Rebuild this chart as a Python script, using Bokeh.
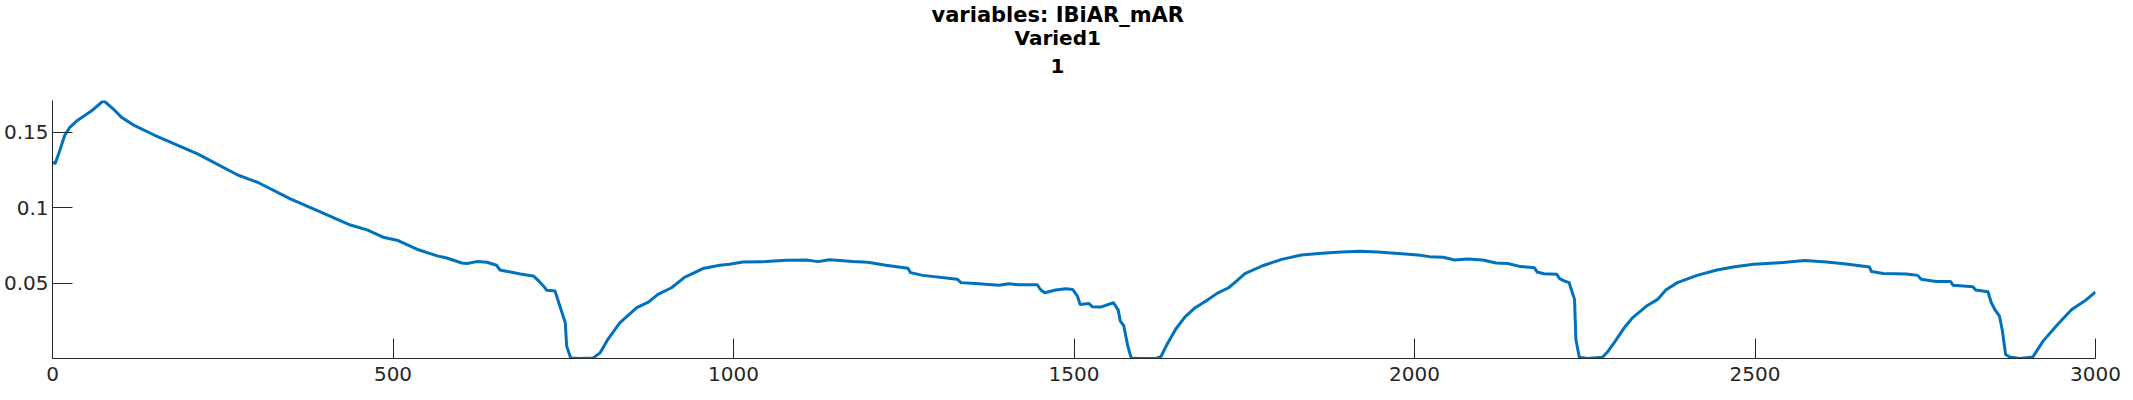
from bokeh.plotting import figure
from bokeh.models import Range1d, FixedTicker, NumeralTickFormatter, Title
from bokeh.embed import file_html
from bokeh.resources import INLINE

# title lines, top to bottom
title_lines = ["variables: IBiAR_mAR", "Varied1", "1"]

x_ticks = [0, 500, 1000, 1500, 2000, 2500, 3000]
y_ticks = [0.05, 0.1, 0.15]

t = [0, 4, 10, 18, 25, 37, 57, 75, 89, 101, 120, 150, 179, 213, 272, 301,
     350, 389, 435, 462, 487, 506, 535, 565, 579, 601, 609, 623, 638, 652,
     657, 687, 706, 714, 721, 726, 738, 745, 753, 755, 761, 775, 794, 804,
     816, 833, 858, 875, 889, 909, 928, 955, 980, 994, 1014, 1048, 1077,
     1107, 1124, 1141, 1175, 1197, 1224, 1256, 1260, 1278, 1322, 1329, 1334,
     1355, 1390, 1404, 1419, 1446, 1451, 1457, 1473, 1488, 1498, 1505, 1509,
     1522, 1527, 1539, 1558, 1565, 1568, 1573, 1579, 1584, 1595, 1622, 1628,
     1636, 1649, 1663, 1678, 1695, 1710, 1727, 1736, 1751, 1776, 1805, 1834,
     1864, 1893, 1920, 1946, 1976, 2005, 2022, 2042, 2059, 2078, 2100, 2120,
     2137, 2156, 2176, 2180, 2190, 2209, 2213, 2220, 2227, 2235, 2237, 2242,
     2254, 2276, 2283, 2293, 2308, 2320, 2342, 2357, 2369, 2386, 2415, 2444,
     2470, 2498, 2537, 2573, 2605, 2634, 2668, 2671, 2688, 2722, 2739, 2744,
     2766, 2787, 2791, 2820, 2824, 2842, 2847, 2853, 2859, 2863, 2868, 2874,
     2889, 2908, 2923, 2943, 2965, 2984, 3000]
v = [0.130, 0.1295, 0.137, 0.148, 0.153, 0.158, 0.164, 0.171, 0.1655, 0.160,
     0.1545, 0.148, 0.1423, 0.1357, 0.1217, 0.1169, 0.1058, 0.0981, 0.089,
     0.0854, 0.0803, 0.0786, 0.0726, 0.0682, 0.0668, 0.0635, 0.0631, 0.0644,
     0.0640, 0.0620, 0.0589, 0.0562, 0.0549, 0.0516, 0.0482, 0.0454, 0.0449,
     0.0350, 0.0239, 0.0084, 0.0007, 0.0003, 0.0007, 0.0040, 0.0133, 0.0239,
     0.0339, 0.0376, 0.0427, 0.0471, 0.0540, 0.0598, 0.0620, 0.0626, 0.0642,
     0.0644, 0.0653, 0.0655, 0.0644, 0.0657, 0.0644, 0.0640, 0.0620, 0.0600,
     0.0571, 0.0553, 0.0531, 0.0527, 0.0505, 0.0500, 0.0487, 0.0498, 0.0491,
     0.0491, 0.0458, 0.0438, 0.0456, 0.0465, 0.0460, 0.0416, 0.0361, 0.0367,
     0.0345, 0.0343, 0.0372, 0.0323, 0.0250, 0.0221, 0.0084, 0.0007, 0.0003,
     0.0005, 0.0018, 0.0091, 0.0195, 0.0279, 0.0339, 0.0387, 0.0434, 0.0471,
     0.0505, 0.0564, 0.0615, 0.0659, 0.0688, 0.0699, 0.0708, 0.0713, 0.0708,
     0.0697, 0.0688, 0.0677, 0.0673, 0.0655, 0.0662, 0.0655, 0.0635, 0.0631,
     0.0611, 0.0604, 0.0575, 0.0564, 0.0560, 0.0531, 0.0516, 0.0505, 0.0394,
     0.0128, 0.0011, 0.0003, 0.0011, 0.0044, 0.0106, 0.0206, 0.0272, 0.0354,
     0.0394, 0.0456, 0.0505, 0.0553, 0.0589, 0.0610, 0.0626, 0.0637, 0.0651,
     0.0642, 0.0628, 0.0609, 0.0578, 0.0566, 0.0562, 0.0553, 0.0527, 0.0513,
     0.0513, 0.0487, 0.0478, 0.0456, 0.0445, 0.0372, 0.0321, 0.0283, 0.0195,
     0.0029, 0.0013, 0.0003, 0.0013, 0.0118, 0.0221, 0.0327, 0.0383, 0.0443]

ink = "#262626"
font = "DejaVu Sans"

p = figure(width=2122, height=392, title=None,
           x_range=Range1d(x_ticks[0], x_ticks[-1]),
           y_range=Range1d(min(v), max(v)),
           output_backend="svg", toolbar_location=None)
p.min_border_left = 0
p.min_border_right = 27
p.min_border_top = 100
p.min_border_bottom = 34
p.outline_line_color = None
p.grid.visible = False

p.line(t, v, line_color="#0072BD", line_width=3, line_join="round")

for ax in (p.xaxis[0], p.yaxis[0]):
    ax.axis_line_color = ink
    ax.major_tick_line_color = ink
    ax.major_tick_in = 20
    ax.major_tick_out = 0
    ax.minor_tick_line_color = None
    ax.major_label_text_font = font
    ax.major_label_text_font_size = "20px"
    ax.major_label_text_color = ink

p.xaxis.ticker = FixedTicker(ticks=x_ticks)
p.yaxis.ticker = FixedTicker(ticks=y_ticks)
p.yaxis.formatter = NumeralTickFormatter(format="0.0[0]")
p.xaxis.major_label_standoff = 8
p.yaxis.major_label_standoff = 4

# blank title used as a gap between the frame and the title block
p.add_layout(Title(text=" ", text_font_size="2px", standoff=24), "above")

# each title line is its own Title; the one added last sits on top.
# left-aligned with offsets so the block centres a little left of the frame
gaps = [-19, 13, 0]           # standoff per line, top to bottom
shifts = [879, 962, 998]      # px from frame left
sizes = ["21px", "20px", "20px"]
for txt, s, dx, size in reversed(list(zip(title_lines, gaps, shifts, sizes))):
    p.add_layout(Title(text=txt, align="left", offset=dx, text_font=font,
                       text_font_style="bold", text_font_size=size,
                       text_color="black", standoff=s), "above")

open("out.html", "w").write(file_html(p, INLINE))
